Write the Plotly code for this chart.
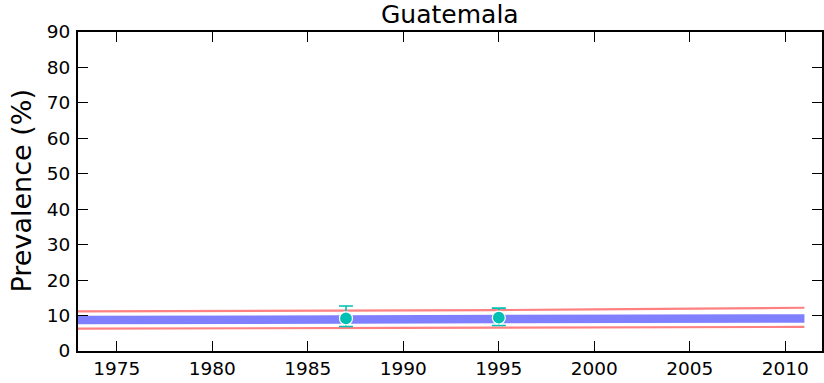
import plotly.graph_objects as go

# Data
years = [1970, 1975, 1980, 1985, 1990, 1995, 2000, 2005, 2011]
estimate = [8.7, 8.75, 8.8, 8.9, 9.0, 9.05, 9.1, 9.15, 9.2]
upper = [11.1, 11.15, 11.2, 11.3, 11.4, 11.55, 11.75, 11.95, 12.2]
lower = [6.3, 6.3, 6.35, 6.4, 6.5, 6.6, 6.7, 6.75, 6.8]

survey_years = [1987, 1995]
survey_values = [9.2, 9.4]
survey_hi = [12.7, 12.1]
survey_lo = [6.9, 7.2]

x_ticks = [1975, 1980, 1985, 1990, 1995, 2000, 2005, 2010]
y_ticks = [0, 10, 20, 30, 40, 50, 60, 70, 80, 90]

FONT = "DejaVu Sans"

fig = go.Figure()
fig.add_trace(go.Scatter(x=years, y=upper, mode="lines",
                         line=dict(color="rgb(255,128,128)", width=2.2), hoverinfo="skip"))
fig.add_trace(go.Scatter(x=years, y=lower, mode="lines",
                         line=dict(color="rgb(255,128,128)", width=2.2), hoverinfo="skip"))
fig.add_trace(go.Scatter(x=years, y=estimate, mode="lines",
                         line=dict(color="rgb(128,128,255)", width=8.5), hoverinfo="skip"))
fig.add_trace(go.Scatter(
    x=survey_years, y=survey_values, mode="markers",
    marker=dict(color="rgb(0,191,180)", size=13, line=dict(color="white", width=1.2)),
    error_y=dict(type="data", symmetric=False,
                 array=[h - v for h, v in zip(survey_hi, survey_values)],
                 arrayminus=[v - l for l, v in zip(survey_lo, survey_values)],
                 color="rgb(0,191,180)", thickness=1.6, width=7),
))

axis_common = dict(
    showline=True, linecolor="black", linewidth=2, mirror="ticks",
    ticks="inside", ticklen=10, tickwidth=1.3, tickcolor="black",
    showgrid=False, zeroline=False, automargin=False,
    tickfont=dict(family=FONT, size=18.5, color="black"),
)

fig.update_layout(
    width=824, height=383,
    margin=dict(l=78, r=2, t=32, b=32),
    plot_bgcolor="white", paper_bgcolor="white",
    showlegend=False,
    xaxis=dict(range=[1972.97, 2011.92], tickvals=x_ticks, **axis_common),
    yaxis=dict(range=[0, 90], tickvals=y_ticks, ticklabelstandoff=2, **axis_common),
    annotations=[
        dict(text="Guatemala", xref="paper", yref="paper", x=0.5, y=1,
             yanchor="bottom", yshift=1, showarrow=False,
             font=dict(family=FONT, size=25, color="black")),
        dict(text="Prevalence (%)", xref="paper", yref="paper", x=0, y=0.5,
             xanchor="center", yanchor="middle", xshift=-57, textangle=-90,
             showarrow=False, font=dict(family=FONT, size=27, color="black")),
    ],
)

fig.write_html("out.html", config={"displayModeBar": False},
               post_script="document.body.style.margin='0';")
